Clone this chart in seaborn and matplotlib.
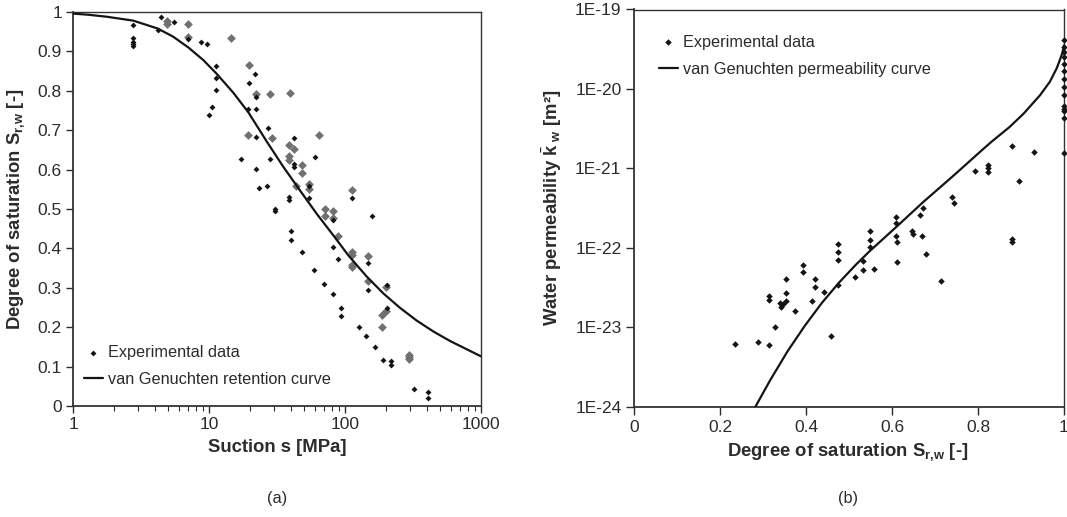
import numpy as np
import pandas as pd
import matplotlib
matplotlib.use("Agg")
import matplotlib.pyplot as plt
import seaborn as sns
from matplotlib.ticker import FixedLocator, FixedFormatter, NullFormatter, NullLocator, LogLocator

# ---------------- data: panel (a) retention ----------------
suction_black = [2.75, 2.75, 2.75, 2.75, 2.75, 4.2, 4.4, 5.5, 7.05, 8.8, 9.6,
                 11.3, 11.3, 11.3, 10.5, 9.95, 19.8, 21.9, 22.0, 22.0, 19.4, 22.0, 17.1, 22.0, 23.3,
                 27.3, 27.9, 26.9, 30.6, 30.6, 42.4, 42.4, 42.4, 38.7, 38.7, 39.8, 39.8,
                 54.4, 54.4, 60.2, 48.6, 81.7, 81.7, 88.3, 113, 157, 147, 147,
                 58.9, 69.7, 81.1, 94, 94, 127, 143.5, 166, 190, 205, 205, 219, 219,
                 320, 408, 408]
sr_black = [0.968, 0.933, 0.925, 0.920, 0.914, 0.954, 0.988, 0.974, 0.931, 0.925, 0.919,
            0.864, 0.833, 0.803, 0.758, 0.739, 0.820, 0.843, 0.784, 0.753, 0.755, 0.682, 0.627, 0.602, 0.553,
            0.706, 0.628, 0.559, 0.499, 0.495, 0.679, 0.615, 0.607, 0.531, 0.522, 0.443, 0.422,
            0.559, 0.528, 0.631, 0.391, 0.471, 0.404, 0.373, 0.527, 0.481, 0.363, 0.295,
            0.346, 0.309, 0.284, 0.248, 0.228, 0.200, 0.178, 0.150, 0.117, 0.308, 0.248, 0.115, 0.104,
            0.042, 0.036, 0.021]

suction_gray = [4.9, 4.9, 7.05, 7.05, 14.4, 19.8, 22.0, 19.4, 28.1, 29.0,
                39.6, 38.7, 38.7, 38.7, 42.4, 48.3, 48.3, 43.6, 54.4, 54.4, 64.0,
                71.7, 71.7, 81.7, 81.7, 88.3, 113, 113, 113, 113, 113, 147, 147,
                186, 186, 200, 200, 297, 297, 297]
sr_gray = [0.978, 0.969, 0.969, 0.936, 0.935, 0.865, 0.792, 0.687, 0.791, 0.681,
           0.795, 0.662, 0.634, 0.624, 0.653, 0.612, 0.592, 0.558, 0.564, 0.550, 0.689,
           0.501, 0.481, 0.495, 0.476, 0.431, 0.547, 0.392, 0.384, 0.358, 0.354, 0.380, 0.316,
           0.231, 0.200, 0.303, 0.240, 0.130, 0.125, 0.119]

suction_curve = [1, 1.3, 1.77, 2.78, 4.2, 5.47, 7.05, 9.08, 11.4, 15.1, 19.5, 26.5, 35.2,
                 46.7, 61.9, 82.1, 106, 144, 191, 254, 336, 447, 592, 1000]
sr_curve = [0.996, 0.993, 0.988, 0.978, 0.958, 0.937, 0.910, 0.878, 0.843, 0.795, 0.745, 0.672, 0.607,
            0.547, 0.488, 0.433, 0.382, 0.329, 0.286, 0.249, 0.217, 0.189, 0.165, 0.126]

x_ticks_a = [1, 10, 100, 1000]
x_labels_a = ["1", "10", "100", "1000"]
y_ticks_a = [0, 0.1, 0.2, 0.3, 0.4, 0.5, 0.6, 0.7, 0.8, 0.9, 1.0]
y_labels_a = ["0", "0.1", "0.2", "0.3", "0.4", "0.5", "0.6", "0.7", "0.8", "0.9", "1"]

# ---------------- data: panel (b) permeability ----------------
sr_perm = [0.236, 0.288, 0.314, 0.329, 0.314, 0.314, 0.340, 0.342, 0.346, 0.353, 0.353, 0.353,
           0.374, 0.393, 0.393, 0.420, 0.420, 0.413, 0.443, 0.459, 0.475, 0.475, 0.475, 0.475,
           0.513, 0.533, 0.533, 0.549, 0.549, 0.549, 0.557, 0.610, 0.610, 0.610, 0.612, 0.612,
           0.646, 0.649, 0.665, 0.671, 0.669, 0.679, 0.714, 0.740, 0.744, 0.793,
           0.824, 0.824, 0.824, 0.879, 0.880, 0.896, 0.931, 0.880,
           1.0, 1.0, 1.0, 1.0, 1.0, 1.0, 1.0, 1.0, 1.0, 1.0, 1.0, 1.0, 1.0, 1.0]
log10_kw_perm = [-23.21, -23.18, -23.22, -23.00, -22.61, -22.66, -22.69, -22.74, -22.71, -22.39, -22.56, -22.67,
                 -22.79, -22.21, -22.30, -22.39, -22.49, -22.67, -22.55, -23.11, -21.95, -22.05, -22.15, -22.46,
                 -22.37, -22.16, -22.28, -21.79, -21.90, -21.99, -22.27, -21.61, -21.69, -21.85, -21.92, -22.18,
                 -21.79, -21.83, -21.58, -21.50, -21.85, -22.08, -22.42, -21.36, -21.43, -21.03,
                 -20.95, -20.99, -21.04, -21.89, -21.92, -21.16, -20.79, -20.72,
                 -19.38, -19.47, -19.53, -19.60, -19.68, -19.77, -19.87, -19.97, -20.08, -20.22,
                 -20.25, -20.28, -20.36, -20.80]

sr_perm_curve = [0.282, 0.317, 0.357, 0.397, 0.437, 0.476, 0.516, 0.548, 0.611, 0.673, 0.743, 0.809,
                 0.830, 0.873, 0.906, 0.944, 0.967, 0.983, 0.990, 0.996, 1.0]
log10_kw_curve = [-24.0, -23.66, -23.30, -22.98, -22.69, -22.44, -22.21, -22.04, -21.73, -21.42, -21.09, -20.77,
                  -20.67, -20.48, -20.31, -20.08, -19.91, -19.74, -19.64, -19.55, -19.45]

x_ticks_b = [0, 0.2, 0.4, 0.6, 0.8, 1.0]
x_labels_b = ["0", "0.2", "0.4", "0.6", "0.8", "1"]
y_ticks_b = [1e-24, 1e-23, 1e-22, 1e-21, 1e-20, 1e-19]
y_labels_b = ["1E-24", "1E-23", "1E-22", "1E-21", "1E-20", "1E-19"]

# ---------------- style ----------------
sns.set_theme(style="white")
plt.rcParams["font.family"] = ["Liberation Sans", "DejaVu Sans"]
plt.rcParams["mathtext.fontset"] = "custom"
plt.rcParams["mathtext.rm"] = "Liberation Sans"
plt.rcParams["mathtext.it"] = "Liberation Sans:italic"
plt.rcParams["mathtext.bf"] = "Liberation Sans:bold"

TXT = "#2b2b2b"
BLACK = "#141414"
GRAY = "#707070"
TICK_FS = 12.5
LEG_FS = 11.7
LAB_FS = 13.3

fig = plt.figure(figsize=(10.67, 5.17), dpi=100)
ax_a = fig.add_axes([73 / 1067, 1 - 406 / 517, 408 / 1067, 394 / 517])
ax_b = fig.add_axes([634 / 1067, 1 - 407 / 517, 430 / 1067, 397.5 / 517])

df_black = pd.DataFrame({"s": suction_black, "Sr": sr_black})
df_gray = pd.DataFrame({"s": suction_gray, "Sr": sr_gray})
df_curve = pd.DataFrame({"s": suction_curve, "Sr": sr_curve})

sns.scatterplot(data=df_gray, x="s", y="Sr", ax=ax_a, marker="D", s=20, color=GRAY,
                linewidth=0, label="_nolegend_", zorder=3)
sns.scatterplot(data=df_black, x="s", y="Sr", ax=ax_a, marker="D", s=9, color=BLACK,
                linewidth=0, label="Experimental data", zorder=4)
sns.lineplot(data=df_curve, x="s", y="Sr", ax=ax_a, color=BLACK, linewidth=1.6,
             sort=False, estimator=None, label="van Genuchten retention curve", zorder=5)

ax_a.set_xscale("log")
ax_a.set_xlim(1, 1000)
ax_a.set_ylim(0, 1)
ax_a.xaxis.set_major_locator(FixedLocator(x_ticks_a))
ax_a.xaxis.set_major_formatter(FixedFormatter(x_labels_a))
ax_a.xaxis.set_minor_locator(LogLocator(base=10, subs=np.arange(2, 10)))
ax_a.xaxis.set_minor_formatter(NullFormatter())
ax_a.yaxis.set_major_locator(FixedLocator(y_ticks_a))
ax_a.yaxis.set_major_formatter(FixedFormatter(y_labels_a))
ax_a.set_xlabel("Suction s [MPa]", fontsize=LAB_FS, fontweight="bold", color=TXT)
ax_a.set_ylabel(r"Degree of saturation S$_{\mathbf{r{,}w}}$ [-]", fontsize=LAB_FS,
                fontweight="bold", color=TXT)
ax_a.xaxis.set_label_coords(0.5, -0.085)
ax_a.yaxis.set_label_coords(-0.113, 0.5)
ax_a.tick_params(axis="both", which="major", direction="out", length=5, width=1,
                 colors=TXT, labelsize=TICK_FS, bottom=True, left=True, pad=3)
ax_a.tick_params(axis="x", which="minor", direction="out", length=3.5, width=0.8,
                 colors=TXT, bottom=True)
leg_a = ax_a.legend(loc="upper left", bbox_to_anchor=(0.026, 0.155), frameon=False,
                    fontsize=LEG_FS, handlelength=1.2, handletextpad=0.3,
                    labelspacing=0.75, borderpad=0, borderaxespad=0)
for t in leg_a.get_texts():
    t.set_color(TXT)

df_perm = pd.DataFrame({"Sr": sr_perm, "k": 10.0 ** np.array(log10_kw_perm)})
df_perm_curve = pd.DataFrame({"Sr": sr_perm_curve, "k": 10.0 ** np.array(log10_kw_curve)})

sns.scatterplot(data=df_perm, x="Sr", y="k", ax=ax_b, marker="D", s=11, color=BLACK,
                linewidth=0, label="Experimental data", zorder=4, clip_on=False)
sns.lineplot(data=df_perm_curve, x="Sr", y="k", ax=ax_b, color=BLACK, linewidth=1.6,
             sort=False, estimator=None, label="van Genuchten permeability curve", zorder=5)

ax_b.set_yscale("log")
ax_b.set_xlim(0, 1)
ax_b.set_ylim(1e-24, 1e-19)
ax_b.xaxis.set_major_locator(FixedLocator(x_ticks_b))
ax_b.xaxis.set_major_formatter(FixedFormatter(x_labels_b))
ax_b.yaxis.set_major_locator(FixedLocator(y_ticks_b))
ax_b.yaxis.set_major_formatter(FixedFormatter(y_labels_b))
ax_b.yaxis.set_minor_locator(NullLocator())
ax_b.set_xlabel(r"Degree of saturation S$_{\mathbf{r{,}w}}$ [-]", fontsize=LAB_FS,
                fontweight="bold", color=TXT)
ax_b.set_ylabel(r"Water permeability $\bar{\mathbf{k}}_{\mathbf{\ w}}$ [m²]", fontsize=LAB_FS,
                fontweight="bold", color=TXT)
ax_b.xaxis.set_label_coords(0.497, -0.086)
ax_b.yaxis.set_label_coords(-0.163, 0.5)
ax_b.tick_params(axis="both", which="major", direction="out", length=6, width=1,
                 colors=TXT, labelsize=TICK_FS, bottom=True, left=True, pad=3)
leg_b = ax_b.legend(loc="upper left", bbox_to_anchor=(0.057, 0.937), frameon=False,
                    fontsize=LEG_FS, handlelength=1.2, handletextpad=0.3,
                    labelspacing=0.75, borderpad=0, borderaxespad=0)
for t in leg_b.get_texts():
    t.set_color(TXT)

for ax in (ax_a, ax_b):
    for side in ("left", "bottom"):
        ax.spines[side].set_color("#333333")
        ax.spines[side].set_linewidth(1.3)
    for side in ("top", "right"):
        ax.spines[side].set_color("#333333")
        ax.spines[side].set_linewidth(1.0)

fig.text(277 / 1067, 1 - 498 / 517, "(a)", ha="center", va="center", fontsize=LEG_FS, color=TXT)
fig.text(848 / 1067, 1 - 498 / 517, "(b)", ha="center", va="center", fontsize=LEG_FS, color=TXT)

fig.savefig("out.png", dpi=100, facecolor="white")
